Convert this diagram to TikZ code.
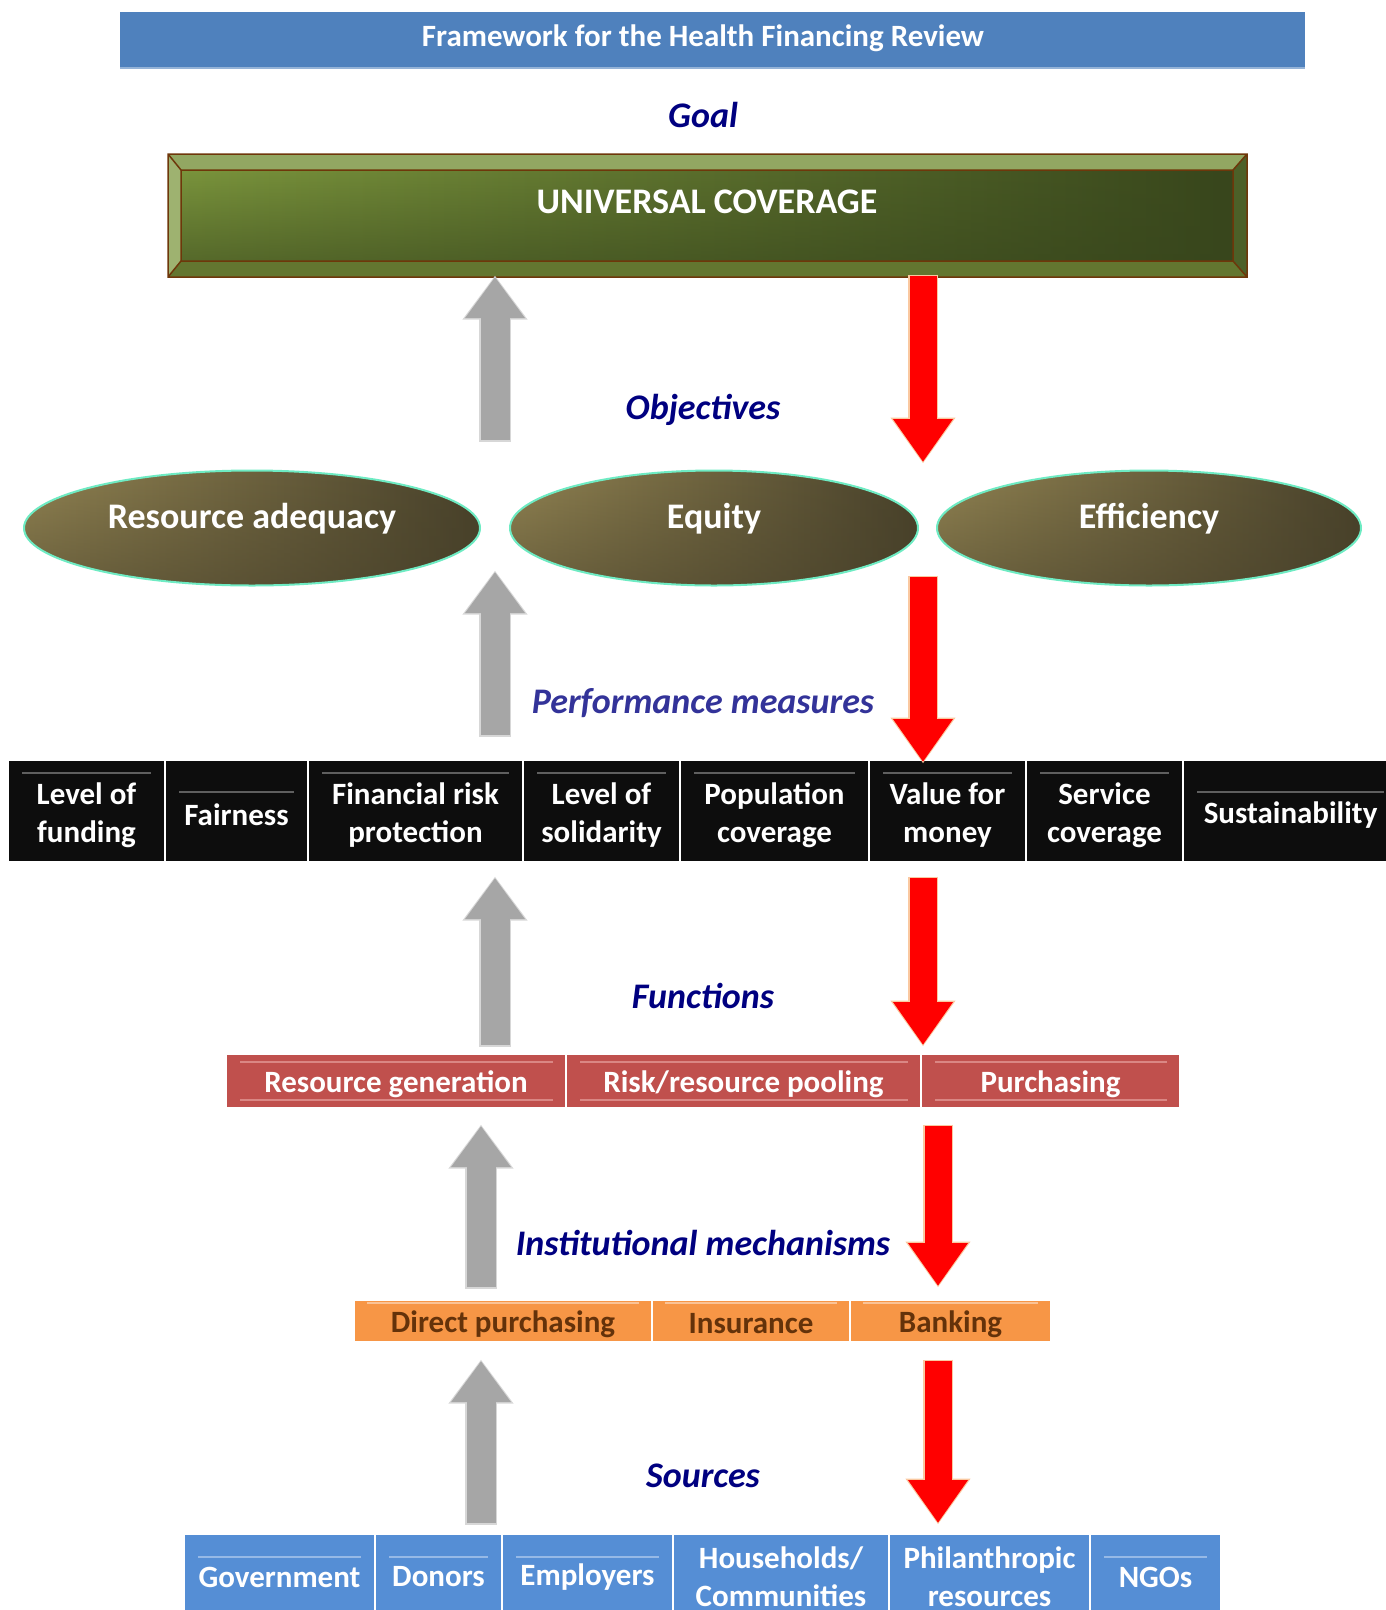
\documentclass[tikz,border=0pt]{standalone}
\usepackage{fontspec}
\setmainfont{Carlito}
\usepackage{tikz}
\usetikzlibrary{arrows.meta}
\usetikzlibrary{positioning}
\usetikzlibrary{shapes.geometric}
\usetikzlibrary{fadings}

\definecolor{titleblue}{RGB}{79,129,189}
\definecolor{titleline}{RGB}{149,179,215}
\definecolor{labelnavy}{RGB}{0,0,128}
\definecolor{pmblue}{RGB}{51,51,153}
\definecolor{ucbrown}{RGB}{110,55,10}
\definecolor{uclight}{RGB}{122,148,60}
\definecolor{ucdark}{RGB}{56,70,28}
\definecolor{bevtop}{RGB}{146,167,98}
\definecolor{bevleft}{RGB}{158,178,112}
\definecolor{bevbot}{RGB}{99,118,48}
\definecolor{bevright}{RGB}{76,96,40}
\definecolor{ovallight}{RGB}{145,131,82}
\definecolor{ovaldark}{RGB}{72,65,42}
\definecolor{ovalrim}{RGB}{110,235,195}
\definecolor{pmblack}{RGB}{13,13,13}
\definecolor{pmline}{RGB}{95,95,95}
\definecolor{fnred}{RGB}{192,80,77}
\definecolor{fnline}{RGB}{218,135,132}
\definecolor{imorange}{RGB}{247,150,70}
\definecolor{imline}{RGB}{251,195,150}
\definecolor{imtext}{RGB}{100,50,10}
\definecolor{srcblue}{RGB}{85,142,213}
\definecolor{srcline}{RGB}{150,185,230}
\definecolor{upgray}{RGB}{166,166,166}
\definecolor{upedge}{RGB}{215,215,215}
\definecolor{downred}{RGB}{255,0,0}
\definecolor{downedge}{RGB}{250,200,160}

\begin{document}
\begin{tikzpicture}[x=1pt,y=-1pt,
    lbl/.style={font=\fontsize{36}{40}\selectfont\bfseries\itshape, text=labelnavy},
    cell/.style={draw=white, line width=1.5pt},
    celltext/.style={font=\fontsize{31}{38}\selectfont\bfseries, align=center},
    oval/.style={ellipse, minimum height=115pt, draw=ovalrim, line width=2pt,
        left color=ovallight, right color=ovaldark,
        path picture={\fill[ovaldark, path fading=north, fill opacity=0.5]
            (path picture bounding box.south west) rectangle (path picture bounding box.north east);}},
    ovaltext/.style={font=\fontsize{36}{40}\selectfont\bfseries, text=white},
    upedgearrow/.style={draw=upedge, line width=32pt, -{Triangle[width=62pt,length=44pt]}},
    uparrow/.style={draw=upgray, line width=29pt, -{Triangle[width=57pt,length=41pt]}},
    downedgearrow/.style={draw=downedge, line width=30pt, -{Triangle[width=62pt,length=46pt]}},
    downarrow/.style={draw=downred, line width=27pt, -{Triangle[width=57pt,length=43pt]}},
    deco/.style={line width=1.2pt}]

    \useasboundingbox (0,0) rectangle (1386,1610);

    % Title bar
    \fill[titleblue] (120,12) rectangle (1305,68);
    \draw[titleline, line width=1.5pt] (120,68) -- (1305,68);
    \node[font=\fontsize{31}{36}\selectfont\bfseries, text=white] (title) at (703,38)
        {Framework for the Health Financing Review};

    % Section labels
    \node[lbl] (goal) at (703,115) {Goal};
    \node[lbl] (obj) at (703,410) {Objectives};
    \node[lbl, text=pmblue] (perf) at (703,703) {Performance measures};
    \node[lbl] (func) at (703,996) {Functions};
    \node[lbl] (inst) at (703,1243) {Institutional mechanisms};
    \node[lbl] (src) at (703,1476) {Sources};

    % Goal box
    \fill[bevtop] (168,154) -- (1247,154) -- (1233,170) -- (181,170) -- cycle;
    \fill[bevleft] (168,154) -- (181,170) -- (181,261) -- (168,277) -- cycle;
    \fill[bevbot] (168,277) -- (181,261) -- (1233,261) -- (1247,277) -- cycle;
    \fill[bevright] (1247,154) -- (1247,277) -- (1233,261) -- (1233,170) -- cycle;
    \shade[left color=uclight, right color=ucdark] (181,170) rectangle (1233,261);
    \fill[ucdark, path fading=north, fill opacity=0.55] (181,170) rectangle (1233,261);
    \draw[ucbrown, line width=1.5pt] (168,154) rectangle (1247,277) (181,170) rectangle (1233,261)
        (168,154) -- (181,170) (1247,154) -- (1233,170) (168,277) -- (181,261) (1247,277) -- (1233,261);
    \node[font=\fontsize{36}{40}\selectfont\bfseries, text=white] (uc) at (707,202) {UNIVERSAL COVERAGE};

    % Objectives
    \node[oval, minimum width=456pt] (ra) at (252,528) {};
    \node[oval, minimum width=408pt] (eq) at (714,528) {};
    \node[oval, minimum width=424pt] (ef) at (1149,528) {};
    \node[ovaltext] (ratxt) at ([yshift=9pt]ra.center) {Resource adequacy};
    \node[ovaltext] (eqtxt) at ([yshift=9pt]eq.center) {Equity};
    \node[ovaltext] (eftxt) at ([yshift=9pt]ef.center) {Efficiency};

    % Performance measures
    \foreach \xa/\xb/\ly/\txt [count=\i] in {8/165/773/{Level of\\funding}, 165/308/792/Fairness,
        308/523/773/{Financial risk\\protection}, 523/680/773/{Level of\\solidarity},
        680/869/773/{Population\\coverage}, 869/1026/773/{Value for\\money},
        1026/1183/773/{Service\\coverage}, 1183/1398/792/Sustainability} {
        \draw[cell, fill=pmblack] (\xa,760) rectangle (\xb,862);
        \draw[deco, pmline] (\xa+14,\ly) -- (\xb-14,\ly);
        \node[celltext, text=white] (pm\i) at ({(\xa+\xb)/2},815) {\txt};
    }

    % Functions
    \foreach \xa/\xb/\txt [count=\i] in {226/566/{Resource generation}, 566/921/{Risk/resource pooling},
        921/1180/{Purchasing}} {
        \draw[cell, fill=fnred] (\xa,1054) rectangle (\xb,1108);
        \draw[deco, fnline] (\xa+14,1062) -- (\xb-13,1062) (\xa+14,1100) -- (\xb-13,1100);
        \node[celltext, text=white] (fn\i) at ({(\xa+\xb)/2},1084) {\txt};
    }

    % Institutional mechanisms
    \foreach \xa/\xb/\txt [count=\i] in {354/652/{Direct purchasing}, 652/850/{Insurance}, 850/1051/{Banking}} {
        \draw[cell, fill=imorange] (\xa,1300) rectangle (\xb,1342);
        \draw[deco, imline] (\xa+13,1303) -- (\xb-13,1303);
        \node[celltext, text=imtext] (im\i) at ({(\xa+\xb)/2},1324) {\txt};
    }

    % Sources
    \foreach \xa/\xb/\txt [count=\i] in {184/375/Government, 375/502/Donors, 502/673/Employers,
        673/889/{Households/\\Communities}, 889/1090/{Philanthropic\\resources}, 1090/1221/NGOs} {
        \draw[cell, fill=srcblue] (\xa,1534) rectangle (\xb,1620);
        \node[celltext, text=white] (so\i) at ({(\xa+\xb)/2},1577) {\txt};
    }
    \foreach \xa/\xb in {184/375, 375/502, 502/673, 1090/1221} {
        \draw[deco, srcline] (\xa+14,1557) -- (\xb-14,1557);
    }

    % Arrows up (grey) and down (red)
    \foreach \x/\ya/\yb [count=\i] in {495/440/277, 495/735/572, 495/1045/878, 481/1287/1126, 481/1523/1361} {
        \coordinate (up\i a) at (\x,\ya);
        \coordinate (up\i b) at (\x,\yb);
        \draw[upedgearrow] ([yshift=-1.5pt]up\i a) -- ([yshift=1.5pt]up\i b);
        \draw[uparrow] (up\i a) -- (up\i b);
    }
    \foreach \x/\ya/\yb [count=\i] in {923/276/462, 923/577/762, 923/878/1045, 938/1126/1286, 938/1361/1523} {
        \coordinate (dn\i a) at (\x,\ya);
        \coordinate (dn\i b) at (\x,\yb);
        \draw[downedgearrow] ([yshift=1.5pt]dn\i a) -- ([yshift=-1.5pt]dn\i b);
        \draw[downarrow] (dn\i a) -- (dn\i b);
    }
\end{tikzpicture}
\end{document}
